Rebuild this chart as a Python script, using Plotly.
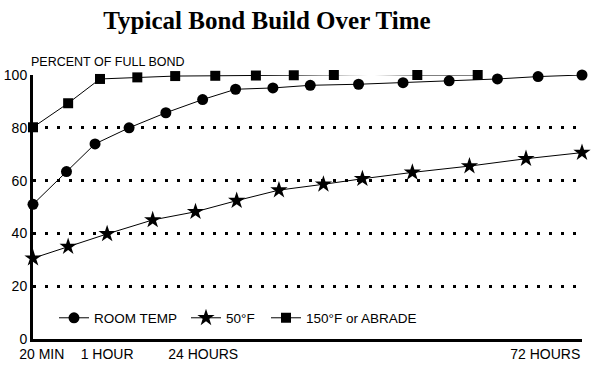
import plotly.graph_objects as go

# x positions are given as percent of the time axis length (20 MIN = 0, end = 100)
room_x = [0, 6.1, 11.3, 17.5, 24.2, 30.9, 36.9, 43.7, 50.5, 59.3, 67.4, 75.8, 84.6, 92.0, 100]
room_y = [51.0, 63.4, 73.9, 80.0, 85.7, 90.7, 94.6, 95.1, 96.1, 96.5, 97.1, 97.8, 98.5, 99.4, 100]

cold_x = [0, 6.4, 13.5, 21.8, 29.6, 37.1, 44.8, 52.9, 60.0, 69.1, 79.5, 89.8, 100]
cold_y = [30.6, 35.0, 39.8, 45.1, 48.2, 52.4, 56.4, 58.6, 60.7, 63.1, 65.5, 68.3, 70.6]

hot_x = [0, 6.4, 12.2, 19.0, 25.9, 33.2, 40.6, 47.5, 54.8, 61.7, 70.0, 81.0]
hot_y = [80.2, 89.3, 98.5, 99.1, 99.6, 99.7, 99.8, 99.9, 100, 100.2, 100, 100]

x_tick_vals = [1.6, 13.5, 31.0, 93.3]
x_tick_text = ["20 MIN", "1 HOUR", "24 HOURS", "72 HOURS"]
y_tick_vals = [0, 20, 40, 60, 80, 100]

series_names = ["ROOM TEMP", "50°F", "150°F or ABRADE"]

FONT = "Liberation Sans, Arial, sans-serif"

fig = go.Figure()
line_style = dict(color="black", width=1)
fig.add_trace(go.Scatter(x=room_x, y=room_y, name=series_names[0], mode="lines+markers",
                         line=line_style, marker=dict(symbol="circle", size=11, color="black"),
                         cliponaxis=False, legend="legend"))
fig.add_trace(go.Scatter(x=cold_x, y=cold_y, name=series_names[1], mode="lines+markers",
                         line=line_style, marker=dict(symbol="star", size=13, color="black"),
                         cliponaxis=False, legend="legend2"))
fig.add_trace(go.Scatter(x=hot_x, y=hot_y, name=series_names[2], mode="lines+markers",
                         line=line_style, marker=dict(symbol="square", size=10, color="black"),
                         cliponaxis=False, legend="legend3"))

leg_common = dict(orientation="h", y=0.0795, xanchor="left", yanchor="middle",
                  bgcolor="rgba(0,0,0,0)", font=dict(size=13.5), itemwidth=30,
                  borderwidth=0)

fig.update_layout(
    width=610, height=368,
    margin=dict(l=33, r=28, t=75, b=29),
    paper_bgcolor="white", plot_bgcolor="white",
    font=dict(family=FONT, size=14, color="black"),
    title=dict(text="Typical Bond Build Over Time", x=267/610, xanchor="center",
               y=1-20/368, yanchor="middle",
               font=dict(family="Liberation Serif, Times New Roman, serif", size=25, color="black",
                         weight="bold")),
    showlegend=True,
    legend=dict(x=(54-33)/549, **leg_common),
    legend2=dict(x=(186-33)/549, **leg_common),
    legend3=dict(x=(266-33)/549, **leg_common),
    xaxis=dict(range=[0, 100], showgrid=False, zeroline=False, showline=True,
               linecolor="black", linewidth=3, tickvals=x_tick_vals, ticktext=x_tick_text,
               ticks="", tickfont=dict(size=14), automargin=False),
    yaxis=dict(range=[0, 100], tickvals=y_tick_vals, showgrid=True, gridcolor="black",
               gridwidth=2.5, griddash="3px,9px", zeroline=False, showline=True,
               linecolor="black", linewidth=3, ticks="", tickfont=dict(size=14),
               automargin=False),
    annotations=[dict(text="PERCENT OF FULL BOND", xref="paper", yref="paper",
                      x=-4/549, y=1+13/264, xanchor="left", yanchor="middle",
                      showarrow=False, font=dict(size=12.5))],
)

fig.write_html("out.html", config={"displayModeBar": False},
               post_script="document.body.style.margin='0';")
